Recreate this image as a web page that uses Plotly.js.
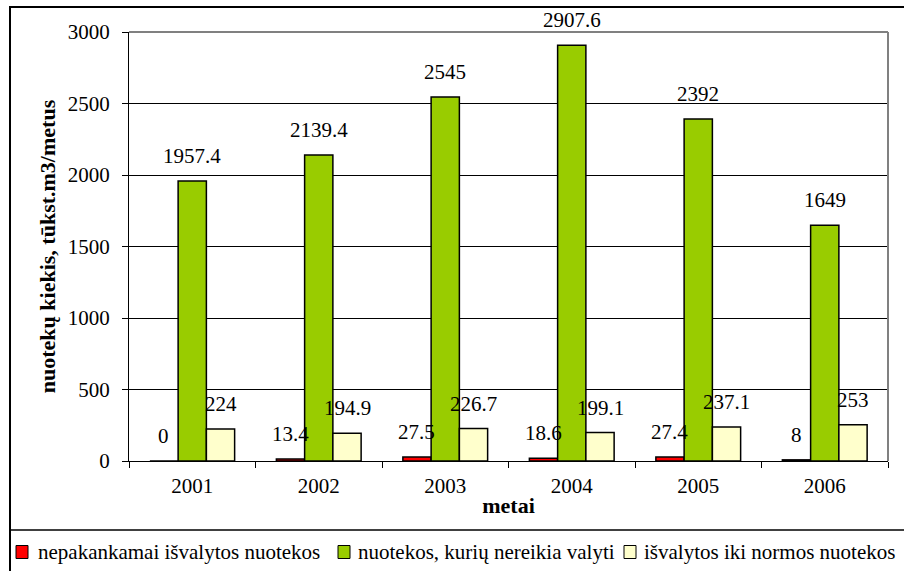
<!DOCTYPE html>
<html>
<head>
<meta charset="utf-8">
<script src="https://cdn.plot.ly/plotly-3.0.1.min.js"></script>
<style>html,body{margin:0;padding:0;background:#fff;}#chart{width:904px;height:571px;}</style>
</head>
<body>
<div id="chart"></div>
<script>
// ---- data ----
var years = ['2001', '2002', '2003', '2004', '2005', '2006'];
var seriesNames = ['nepakankamai išvalytos nuotekos', 'nuotekos, kurių nereikia valyti', 'išvalytos iki normos nuotekos'];
var insufficient = [0, 13.4, 27.5, 18.6, 27.4, 8];
var noTreatment = [1957.4, 2139.4, 2545, 2907.6, 2392, 1649];
var treated = [224, 194.9, 226.7, 199.1, 237.1, 253];
var yTickVals = [0, 500, 1000, 1500, 2000, 2500, 3000];
var yTitle = 'nuotekų kiekis, tūkst.m3/metus';
var xTitle = 'metai';

// ---- layout constants ----
var W = 904, H = 571, L = 129, R = 16, T = 32, B = 110;
var PW = W - L - R, PH = H - T - B;
function px2x(px) { return (px - L) / PW; }
function py2y(py) { return (H - B - py) / PH; }
var colors = ['#FF0000', '#99CC00', '#FFFFCC'];
var FONT = 'Liberation Serif, Times New Roman, serif';
var bargap = 0.33;
var barPx = PW / years.length * (1 - bargap) / 3;

var seriesValues = [insufficient, noTreatment, treated];
var traces = seriesValues.map(function (vals, s) {
  return {
    type: 'bar', x: years, y: vals, name: seriesNames[s],
    marker: { color: colors[s], line: { color: '#000', width: 1.5 } },
    showlegend: false, hoverinfo: 'x+y'
  };
});

var annotations = [];
seriesValues.forEach(function (vals, s) {
  vals.forEach(function (v, i) {
    annotations.push({
      x: i, y: v, xref: 'x', yref: 'y', text: String(v),
      showarrow: false, xanchor: 'center', yanchor: 'middle',
      xshift: (s - 1) * barPx, yshift: 25,
      font: { family: FONT, size: 21, color: '#000' }
    });
  });
});

// custom legend row
var legSq = [[16, 28], [338, 350], [624, 636]];
var legTx = [36, 356, 642];
var legY = 552;
var shapes = [];
seriesNames.forEach(function (n, s) {
  shapes.push({
    type: 'rect', xref: 'paper', yref: 'paper',
    x0: px2x(legSq[s][0]), x1: px2x(legSq[s][1]),
    y0: py2y(legY - 6.5), y1: py2y(legY + 6.5),
    fillcolor: colors[s], line: { color: '#000', width: 1 }
  });
  annotations.push({
    xref: 'paper', yref: 'paper', x: px2x(legTx[s]), y: py2y(legY),
    xanchor: 'left', yanchor: 'middle', showarrow: false, text: n,
    font: { family: FONT, size: 21, color: '#000' }
  });
});
// outer chart frame and legend separator
shapes.push({ type: 'rect', xref: 'paper', yref: 'paper', x0: px2x(10), x1: px2x(930), y0: py2y(7), y1: py2y(600), line: { color: '#000', width: 2 }, fillcolor: 'rgba(0,0,0,0)' });
shapes.push({ type: 'line', xref: 'paper', yref: 'paper', x0: px2x(10), x1: px2x(930), y0: py2y(530), y1: py2y(530), line: { color: '#000', width: 1.5 } });
// plot area border (top and right, grey)
shapes.push({ type: 'line', xref: 'paper', yref: 'paper', x0: 0, x1: 1, y0: 1, y1: 1, line: { color: '#808080', width: 2 } });
shapes.push({ type: 'line', xref: 'paper', yref: 'paper', x0: 1, x1: 1, y0: 0, y1: 1, line: { color: '#808080', width: 2 } });

var layout = {
  width: W, height: H,
  margin: { l: L, r: R, t: T, b: B, pad: 0 },
  paper_bgcolor: '#fff', plot_bgcolor: '#fff',
  barmode: 'group', bargap: bargap, bargroupgap: 0,
  font: { family: FONT, size: 21, color: '#000' },
  xaxis: {
    type: 'category', categoryorder: 'array', categoryarray: years,
    range: [-0.5, years.length - 0.5], tickangle: 0,
    ticks: 'outside', tickson: 'boundaries', ticklen: 6, tickcolor: '#000', tickwidth: 1,
    showline: true, linecolor: '#000', linewidth: 1, showgrid: false,
    tickfont: { family: FONT, size: 21, color: '#000' },
    ticklabelstandoff: 6,
    automargin: false,
    title: { text: xTitle, standoff: 0, font: { family: FONT, size: 22, color: '#000', weight: 'bold' } }
  },
  yaxis: {
    range: [0, 3000], tickvals: yTickVals, ticks: 'outside', ticklen: 6, tickcolor: '#000', tickwidth: 1,
    showline: true, linecolor: '#000', linewidth: 1,
    showgrid: true, gridcolor: '#000', gridwidth: 1, zeroline: false,
    tickfont: { family: FONT, size: 21, color: '#000' },
    ticklabelstandoff: 8,
    automargin: false,
    title: { text: yTitle, standoff: 6, font: { family: FONT, size: 22, color: '#000', weight: 'bold' } }
  },
  shapes: shapes,
  annotations: annotations,
  showlegend: false
};

Plotly.newPlot('chart', traces, layout, { staticPlot: true, displayModeBar: false });
</script>
</body>
</html>
